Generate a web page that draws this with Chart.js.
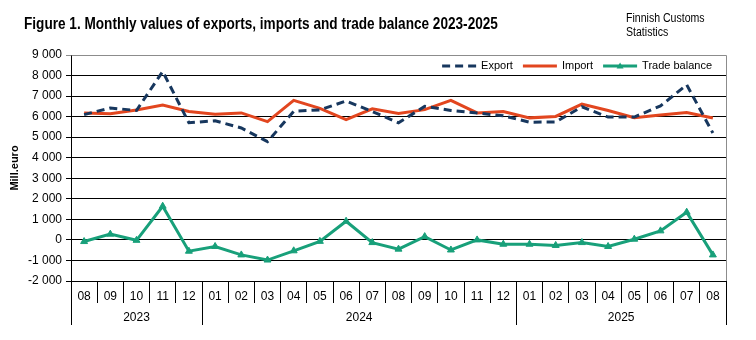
<!DOCTYPE html>
<html>
<head>
<meta charset="utf-8">
<script src="https://cdn.jsdelivr.net/npm/chart.js@4/dist/chart.umd.min.js"></script>
<style>
  html, body { margin: 0; padding: 0; background: #ffffff; }
  #wrap { width: 756px; height: 340px; position: relative; }
</style>
</head>
<body>
<div id="wrap"><canvas id="chart" width="756" height="340"></canvas></div>
<script>
// Months 08/2023 ... 08/2025, values in million euro
const months = ['08','09','10','11','12',
                '01','02','03','04','05','06','07','08','09','10','11','12',
                '01','02','03','04','05','06','07','08'];
const years = ['2023', '2024', '2025'];
const monthsPerYear = [5, 12, 8];

const exportValues = [6100, 6420, 6300, 8200, 5700, 5800, 5450, 4780, 6260, 6330, 6760, 6250, 5700,
                      6500, 6300, 6180, 6040, 5730, 5740, 6480, 5980, 5980, 6520, 7550, 5200];
const importValues = [6180, 6140, 6320, 6560, 6250, 6120, 6180, 5760, 6790, 6400, 5850, 6380, 6150,
                      6340, 6790, 6180, 6250, 5940, 6010, 6610, 6300, 5945, 6080, 6200, 5930];
const balanceValues = [-80, 280, -20, 1640, -550, -320, -730, -980, -530, -70, 910, -130, -450,
                       160, -490, 0, -210, -210, -270, -130, -320, 35, 440, 1350, -730];

const yTicks = [-2000, -1000, 0, 1000, 2000, 3000, 4000, 5000, 6000, 7000, 8000, 9000];

const SANS = "'Liberation Sans', Arial, sans-serif";

const C_EXPORT = '#17375e';
const C_IMPORT = '#e2461f';
const C_BALANCE = '#18a07a';

function fmt(v) {
  const s = String(Math.abs(v)).replace(/\B(?=(\d{3})+(?!\d))/g, ' ');
  return (v < 0 ? '-' : '') + s;
}

// Draws condensed text by squeezing the glyphs horizontally
function narrowText(ctx, text, x, y, squeeze) {
  ctx.save();
  ctx.translate(x, y);
  ctx.scale(squeeze, 1);
  ctx.fillText(text, 0, 0);
  ctx.restore();
}

// Header texts, legend, plot frame and the two-level month/year axis
const decorations = {
  id: 'decorations',
  beforeDraw(chart) {
    const ctx = chart.ctx;
    ctx.save();
    ctx.fillStyle = '#ffffff';
    ctx.fillRect(0, 0, chart.width, chart.height);
    ctx.fillStyle = '#000000';
    ctx.textBaseline = 'alphabetic';
    ctx.textAlign = 'left';
    ctx.font = 'bold 16px ' + SANS;
    narrowText(ctx, 'Figure 1. Monthly values of exports, imports and trade balance 2023-2025', 24, 29, 0.85);
    ctx.font = '12px ' + SANS;
    narrowText(ctx, 'Finnish Customs', 626, 22, 0.88);
    narrowText(ctx, 'Statistics', 626, 36, 0.88);
    ctx.restore();
  },
  afterDraw(chart) {
    const ctx = chart.ctx;
    const area = chart.chartArea;
    const x = chart.scales.x;
    ctx.save();
    // grey frame on top and right side of the plot
    ctx.strokeStyle = '#8c8c8c';
    ctx.lineWidth = 1;
    ctx.beginPath();
    ctx.moveTo(Math.round(area.left) + 0.5, Math.round(area.top) + 0.5);
    ctx.lineTo(Math.round(area.right) + 0.5, Math.round(area.top) + 0.5);
    ctx.lineTo(Math.round(area.right) + 0.5, Math.round(area.bottom) + 0.5);
    ctx.stroke();

    // year groups below the month labels
    const half = (x.getPixelForValue(1) - x.getPixelForValue(0)) / 2;
    const top = Math.round(area.bottom);
    const yearLineEnd = 325;
    ctx.strokeStyle = '#000000';
    ctx.fillStyle = '#000000';
    ctx.font = '12px ' + SANS;
    ctx.textAlign = 'center';
    ctx.textBaseline = 'middle';
    let start = 0;
    years.forEach((yr, i) => {
      const n = monthsPerYear[i];
      const left = x.getPixelForValue(start) - half;
      const right = x.getPixelForValue(start + n - 1) + half;
      ctx.beginPath();
      ctx.moveTo(Math.round(left) + 0.5, top);
      ctx.lineTo(Math.round(left) + 0.5, yearLineEnd);
      if (i === years.length - 1) {
        ctx.moveTo(Math.round(right) + 0.5, top);
        ctx.lineTo(Math.round(right) + 0.5, yearLineEnd);
      }
      ctx.stroke();
      ctx.fillText(yr, (left + right) / 2, 318);
      start += n;
    });

    // legend in the top right corner of the plot
    const lineLen = 34, textGap = 5, itemGap = 10, legendRight = 712, legendY = area.top + 11;
    ctx.font = '11px ' + SANS;
    ctx.textAlign = 'left';
    ctx.textBaseline = 'middle';
    const sets = chart.data.datasets;
    const widths = sets.map(ds => ctx.measureText(ds.label).width);
    let total = itemGap * (sets.length - 1);
    widths.forEach(w => { total += lineLen + textGap + w; });
    let lx = legendRight - total;
    sets.forEach((ds, i) => {
      ctx.strokeStyle = ds.borderColor;
      ctx.lineWidth = ds.borderWidth;
      ctx.setLineDash(ds.borderDash || []);
      ctx.beginPath();
      ctx.moveTo(lx, legendY);
      ctx.lineTo(lx + lineLen, legendY);
      ctx.stroke();
      ctx.setLineDash([]);
      if (ds.pointStyle === 'triangle') {
        const cx = lx + lineLen / 2;
        ctx.fillStyle = ds.borderColor;
        ctx.beginPath();
        ctx.moveTo(cx, legendY - 3.5);
        ctx.lineTo(cx + 3.5, legendY + 2.5);
        ctx.lineTo(cx - 3.5, legendY + 2.5);
        ctx.closePath();
        ctx.fill();
      }
      ctx.fillStyle = '#000000';
      ctx.fillText(ds.label, lx + lineLen + textGap, legendY);
      lx += lineLen + textGap + widths[i] + itemGap;
    });
    ctx.restore();
  }
};

new Chart(document.getElementById('chart'), {
  type: 'line',
  data: {
    labels: months,
    datasets: [
      {
        label: 'Export',
        data: exportValues,
        borderColor: C_EXPORT,
        backgroundColor: C_EXPORT,
        borderWidth: 3,
        borderDash: [8, 5],
        pointRadius: 0,
        tension: 0,
        fill: false
      },
      {
        label: 'Import',
        data: importValues,
        borderColor: C_IMPORT,
        backgroundColor: C_IMPORT,
        borderWidth: 3,
        pointRadius: 0,
        tension: 0,
        fill: false
      },
      {
        label: 'Trade balance',
        data: balanceValues,
        borderColor: C_BALANCE,
        backgroundColor: C_BALANCE,
        borderWidth: 3,
        pointStyle: 'triangle',
        pointRadius: 4,
        pointBorderWidth: 1,
        tension: 0,
        fill: false
      }
    ]
  },
  options: {
    responsive: false,
    animation: false,
    devicePixelRatio: 1,
    layout: { padding: { left: 0, right: 30, top: 55, bottom: 0 } },
    plugins: {
      title: { display: false },
      tooltip: { enabled: false },
      legend: { display: false }
    },
    scales: {
      x: {
        type: 'category',
        offset: true,
        afterFit(scale) { scale.height = 59; },
        grid: {
          offset: true,
          drawOnChartArea: false,
          drawTicks: true,
          tickLength: 22,
          color: '#000000',
          lineWidth: 1
        },
        border: { color: '#000000', width: 1 },
        ticks: {
          autoSkip: false,
          maxRotation: 0,
          padding: -14,
          color: '#000000',
          font: { family: SANS, size: 12 }
        }
      },
      y: {
        min: -2000,
        max: 9000,
        afterFit(scale) { scale.width = 71; },
        afterBuildTicks(scale) { scale.ticks = yTicks.map(v => ({ value: v })); },
        grid: {
          color: (c) => (c.tick && c.tick.value === 9000 ? '#8c8c8c' : '#000000'),
          lineWidth: 1,
          drawTicks: true,
          tickLength: 5
        },
        border: { color: '#000000', width: 1 },
        ticks: {
          padding: 4,
          color: '#000000',
          font: { family: SANS, size: 12 },
          callback: (v) => fmt(v)
        },
        title: {
          display: true,
          text: 'Mill.euro',
          color: '#000000',
          font: { family: SANS, size: 11, weight: 'bold' },
          padding: { top: 8, bottom: 0 }
        }
      }
    }
  },
  plugins: [decorations]
});
</script>
</body>
</html>
